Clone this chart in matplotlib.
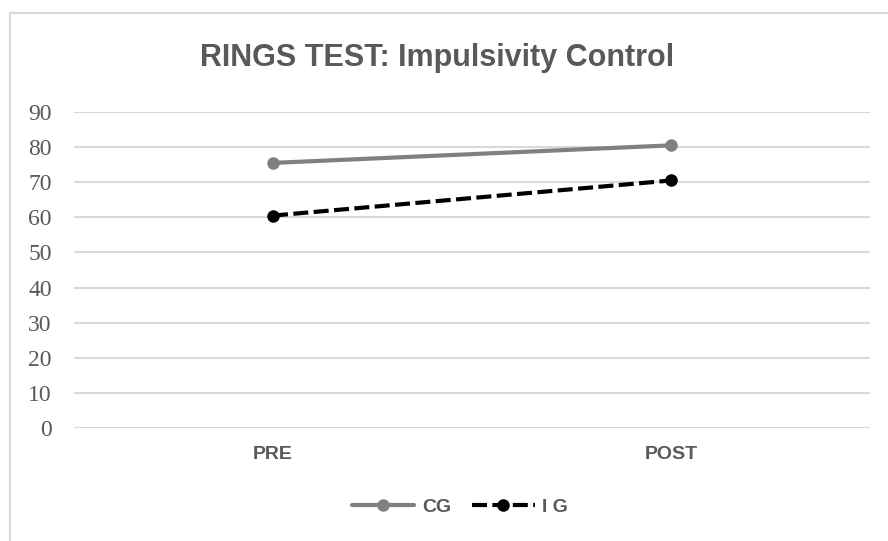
import matplotlib.pyplot as plt
from matplotlib.patches import Rectangle

# data
phases = ['PRE', 'POST']
cg_scores = [75.5, 80.5]
ig_scores = [60.5, 70.5]
y_ticks = [0, 10, 20, 30, 40, 50, 60, 70, 80, 90]

text_grey = '#595959'
grid_grey = '#d9d9d9'

fig = plt.figure(figsize=(8.88, 5.41), dpi=100)
ax = fig.add_axes([74/888, 1 - 428/541, (870 - 74)/888, (428 - 112)/541])

# outer chart frame (left and top only visible)
fig.patches.append(Rectangle((10/888, -0.1), 2.0, 1 - 13/541 + 0.1, transform=fig.transFigure,
                             fill=False, edgecolor=grid_grey, linewidth=1.5))

x = list(range(len(phases)))
ax.plot(x, cg_scores, color='#808080', linewidth=3, marker='o', markersize=8,
        solid_capstyle='round', label='CG')
ax.plot(x, ig_scores, color='black', linewidth=3, marker='o', markersize=8,
        linestyle=(0, (3.6, 1.3)), label='I G')

ax.set_xlim(-0.5, 1.5)
ax.set_ylim(0, 90)
ax.set_yticks(y_ticks)
ax.set_xticks(x)
ax.set_xticklabels(phases, fontfamily='Liberation Sans', fontweight='bold', fontsize=14, color=text_grey)
for lab in ax.get_yticklabels():
    lab.set_fontfamily('Liberation Serif')
    lab.set_fontsize(17)
    lab.set_color(text_grey)

ax.yaxis.grid(True, color=grid_grey, linewidth=1.5)
ax.set_axisbelow(True)
for s in ax.spines.values():
    s.set_visible(False)
ax.tick_params(axis='both', length=0)
ax.tick_params(axis='y', pad=16)
ax.tick_params(axis='x', pad=13)

fig.text(437/888, 1 - 58/541, 'RINGS TEST: Impulsivity Control', ha='center', va='center',
         fontfamily='Liberation Sans', fontweight='bold', fontsize=22, color=text_grey)

leg = ax.legend(loc='center', bbox_to_anchor=((460 - 74)/796, (428 - 507)/(428 - 112)), ncol=2, frameon=False,
                handlelength=3.2, columnspacing=1.1, handletextpad=0.4,
                prop={'family': 'Liberation Sans', 'weight': 'bold', 'size': 14})
for t in leg.get_texts():
    t.set_color(text_grey)

fig.savefig('out.png', dpi=100)
